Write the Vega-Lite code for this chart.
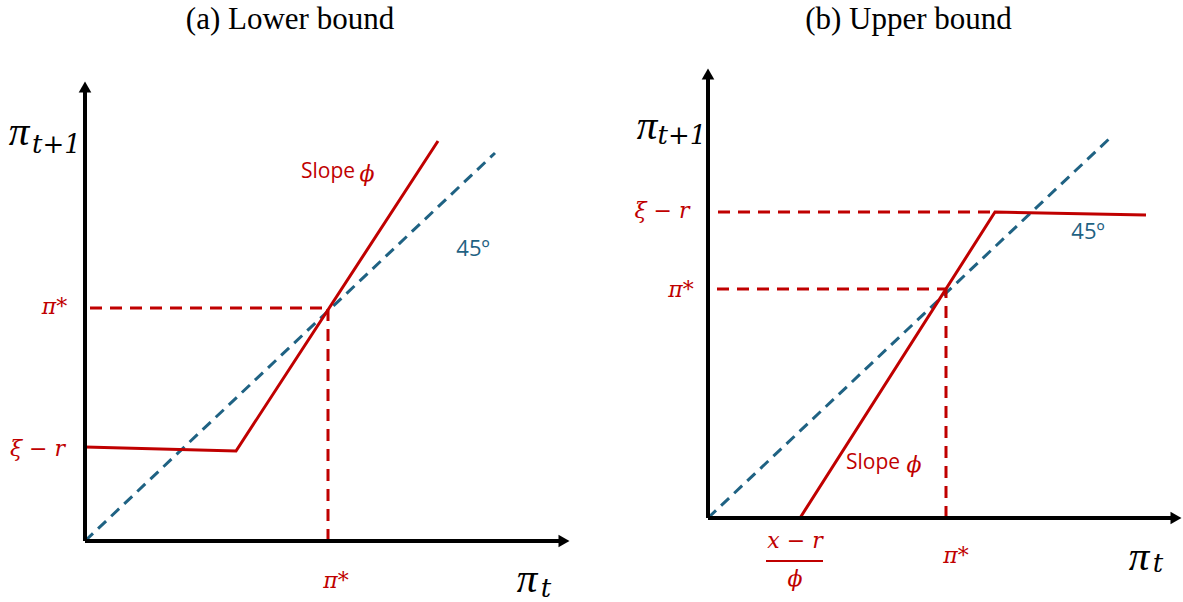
{
  "$schema": "https://vega.github.io/schema/vega-lite/v6.json",
  "padding": {"top": 4, "left": 0, "right": 0, "bottom": 0},
  "spacing": 0,
  "bounds": "flush",
  "background": "white",
  "config": {
    "view": {"stroke": null},
    "title": {"font": "Liberation Serif", "fontSize": 31, "fontWeight": "normal", "color": "black", "offset": 5, "anchor": "middle"}
  },
  "hconcat": [
    {
      "width": 592,
      "height": 562,
      "title": {"text": "(a) Lower bound", "dx": -6},
      "encoding": {
        "x": {"field": "x", "type": "quantitative", "scale": {"domain": [-8.5, 50.7], "nice": false, "zero": false}, "axis": null},
        "y": {"field": "y", "type": "quantitative", "scale": {"domain": [-6.2, 50], "nice": false, "zero": false}, "axis": null}
      },
      "layer": [
        {
          "data": {"values": [{"x": 0, "y": 0, "x2": 41, "y2": 38.8}]},
          "mark": {"type": "rule", "color": "#1F6283", "strokeWidth": 3, "strokeDash": [11, 7]},
          "encoding": {"x2": {"field": "x2"}, "y2": {"field": "y2"}}
        },
        {
          "data": {"values": [{"x": 0.5, "y": 23.3, "x2": 24.3, "y2": 23.3}, {"x": 24.3, "y": 0, "x2": 24.3, "y2": 23.3}]},
          "mark": {"type": "rule", "color": "#C00000", "strokeWidth": 3, "strokeDash": [12, 8]},
          "encoding": {"x2": {"field": "x2"}, "y2": {"field": "y2"}}
        },
        {
          "data": {"values": [{"x": 0, "y": 9.4, "o": 1}, {"x": 15.1, "y": 9.0, "o": 2}, {"x": 35.3, "y": 40, "o": 3}]},
          "mark": {"type": "line", "color": "#C00000", "strokeWidth": 3},
          "encoding": {"order": {"field": "o", "type": "quantitative"}}
        },
        {
          "data": {"values": [{"x": 0, "y": 0, "x2": 0, "y2": 45.2}, {"x": 0, "y": 0, "x2": 47.6, "y2": 0}]},
          "mark": {"type": "rule", "color": "black", "strokeWidth": 4},
          "encoding": {"x2": {"field": "x2"}, "y2": {"field": "y2"}}
        },
        {
          "data": {"values": [{"x": 0, "y": 45.4}]},
          "mark": {"type": "point", "shape": "triangle-up", "filled": true, "opacity": 1, "color": "black", "size": 160},
          "encoding": {}
        },
        {
          "data": {"values": [{"x": 47.9, "y": 0}]},
          "mark": {"type": "point", "shape": "triangle-right", "filled": true, "opacity": 1, "color": "black", "size": 160},
          "encoding": {}
        },
        {
          "data": {"values": [{"t": "π", "x": -6.6, "y": 40.8}, {"t": "π", "x": 44.2, "y": -3.9}]},
          "mark": {"type": "text", "font": "Liberation Serif", "fontStyle": "italic", "fontSize": 41, "color": "black", "align": "center", "baseline": "middle"},
          "encoding": {"text": {"field": "t"}}
        },
        {
          "data": {"values": [{"t": "t+1", "x": -2.85, "y": 39.6}, {"t": "t", "x": 46.1, "y": -4.8}]},
          "mark": {"type": "text", "font": "DejaVu Serif", "fontStyle": "italic", "fontSize": 26, "color": "black", "align": "center", "baseline": "middle"},
          "encoding": {"text": {"field": "t"}}
        },
        {
          "data": {"values": [{"t": "π*", "x": -3.05, "y": 23.4}, {"t": "ξ − r", "x": -4.75, "y": 9.2}, {"t": "π*", "x": 25.1, "y": -4}]},
          "mark": {"type": "text", "font": "DejaVu Serif", "fontStyle": "italic", "fontSize": 22, "color": "#C00000", "align": "center", "baseline": "middle"},
          "encoding": {"text": {"field": "t"}}
        },
        {
          "data": {"values": [{"t": "Slope", "x": 24.3, "y": 36.9}]},
          "mark": {"type": "text", "font": "Open Sans", "fontSize": 21, "color": "#C00000", "align": "center", "baseline": "middle"},
          "encoding": {"text": {"field": "t"}}
        },
        {
          "data": {"values": [{"t": "ϕ", "x": 28.2, "y": 36.7}]},
          "mark": {"type": "text", "font": "DejaVu Serif", "fontStyle": "italic", "fontSize": 22, "color": "#C00000", "align": "center", "baseline": "middle"},
          "encoding": {"text": {"field": "t"}}
        },
        {
          "data": {"values": [{"t": "45º", "x": 38.8, "y": 29.2}]},
          "mark": {"type": "text", "font": "Open Sans", "fontSize": 22, "color": "#1F6283", "align": "center", "baseline": "middle"},
          "encoding": {"text": {"field": "t"}}
        }
      ]
    },
    {
      "width": 591,
      "height": 562,
      "title": {"text": "(b) Upper bound", "dx": 21},
      "encoding": {
        "x": {"field": "x", "type": "quantitative", "scale": {"domain": [-11.6, 47.5], "nice": false, "zero": false}, "axis": null},
        "y": {"field": "y", "type": "quantitative", "scale": {"domain": [-8.5, 47.7], "nice": false, "zero": false}, "axis": null}
      },
      "layer": [
        {
          "data": {"values": [{"x": 0, "y": 0, "x2": 40.2, "y2": 38}]},
          "mark": {"type": "rule", "color": "#1F6283", "strokeWidth": 3, "strokeDash": [11, 7]},
          "encoding": {"x2": {"field": "x2"}, "y2": {"field": "y2"}}
        },
        {
          "data": {"values": [{"x": 1, "y": 30.6, "x2": 28.7, "y2": 30.6}, {"x": 0.9, "y": 22.9, "x2": 23.8, "y2": 22.9}, {"x": 23.8, "y": 0, "x2": 23.8, "y2": 22.9}]},
          "mark": {"type": "rule", "color": "#C00000", "strokeWidth": 3, "strokeDash": [12, 8]},
          "encoding": {"x2": {"field": "x2"}, "y2": {"field": "y2"}}
        },
        {
          "data": {"values": [{"x": 9.2, "y": 0, "o": 1}, {"x": 28.7, "y": 30.6, "o": 2}, {"x": 43.8, "y": 30.3, "o": 3}]},
          "mark": {"type": "line", "color": "#C00000", "strokeWidth": 3},
          "encoding": {"order": {"field": "o", "type": "quantitative"}}
        },
        {
          "data": {"values": [{"x": 0, "y": 0, "x2": 0, "y2": 44.2}, {"x": 0, "y": 0, "x2": 46.6, "y2": 0}]},
          "mark": {"type": "rule", "color": "black", "strokeWidth": 4},
          "encoding": {"x2": {"field": "x2"}, "y2": {"field": "y2"}}
        },
        {
          "data": {"values": [{"x": 5.8, "y": -4.3, "x2": 11.5, "y2": -4.3}]},
          "mark": {"type": "rule", "color": "#C00000", "strokeWidth": 2},
          "encoding": {"x2": {"field": "x2"}, "y2": {"field": "y2"}}
        },
        {
          "data": {"values": [{"x": 0, "y": 44.4}]},
          "mark": {"type": "point", "shape": "triangle-up", "filled": true, "opacity": 1, "color": "black", "size": 160},
          "encoding": {}
        },
        {
          "data": {"values": [{"x": 46.8, "y": 0}]},
          "mark": {"type": "point", "shape": "triangle-right", "filled": true, "opacity": 1, "color": "black", "size": 160},
          "encoding": {}
        },
        {
          "data": {"values": [{"t": "π", "x": -6.1, "y": 39.1}, {"t": "π", "x": 43.1, "y": -4.0}]},
          "mark": {"type": "text", "font": "Liberation Serif", "fontStyle": "italic", "fontSize": 41, "color": "black", "align": "center", "baseline": "middle"},
          "encoding": {"text": {"field": "t"}}
        },
        {
          "data": {"values": [{"t": "t+1", "x": -2.6, "y": 38.2}, {"t": "t", "x": 45.0, "y": -4.6}]},
          "mark": {"type": "text", "font": "DejaVu Serif", "fontStyle": "italic", "fontSize": 26, "color": "black", "align": "center", "baseline": "middle"},
          "encoding": {"text": {"field": "t"}}
        },
        {
          "data": {"values": [{"t": "ξ − r", "x": -4.6, "y": 30.7}, {"t": "π*", "x": -2.7, "y": 22.8}, {"t": "x − r", "x": 8.7, "y": -2.3}, {"t": "ϕ", "x": 8.7, "y": -6.1}, {"t": "π*", "x": 24.8, "y": -3.8}]},
          "mark": {"type": "text", "font": "DejaVu Serif", "fontStyle": "italic", "fontSize": 22, "color": "#C00000", "align": "center", "baseline": "middle"},
          "encoding": {"text": {"field": "t"}}
        },
        {
          "data": {"values": [{"t": "Slope", "x": 16.5, "y": 5.5}]},
          "mark": {"type": "text", "font": "Open Sans", "fontSize": 21, "color": "#C00000", "align": "center", "baseline": "middle"},
          "encoding": {"text": {"field": "t"}}
        },
        {
          "data": {"values": [{"t": "ϕ", "x": 20.6, "y": 5.3}]},
          "mark": {"type": "text", "font": "DejaVu Serif", "fontStyle": "italic", "fontSize": 22, "color": "#C00000", "align": "center", "baseline": "middle"},
          "encoding": {"text": {"field": "t"}}
        },
        {
          "data": {"values": [{"t": "45º", "x": 38, "y": 28.6}]},
          "mark": {"type": "text", "font": "Open Sans", "fontSize": 22, "color": "#1F6283", "align": "center", "baseline": "middle"},
          "encoding": {"text": {"field": "t"}}
        }
      ]
    }
  ]
}
